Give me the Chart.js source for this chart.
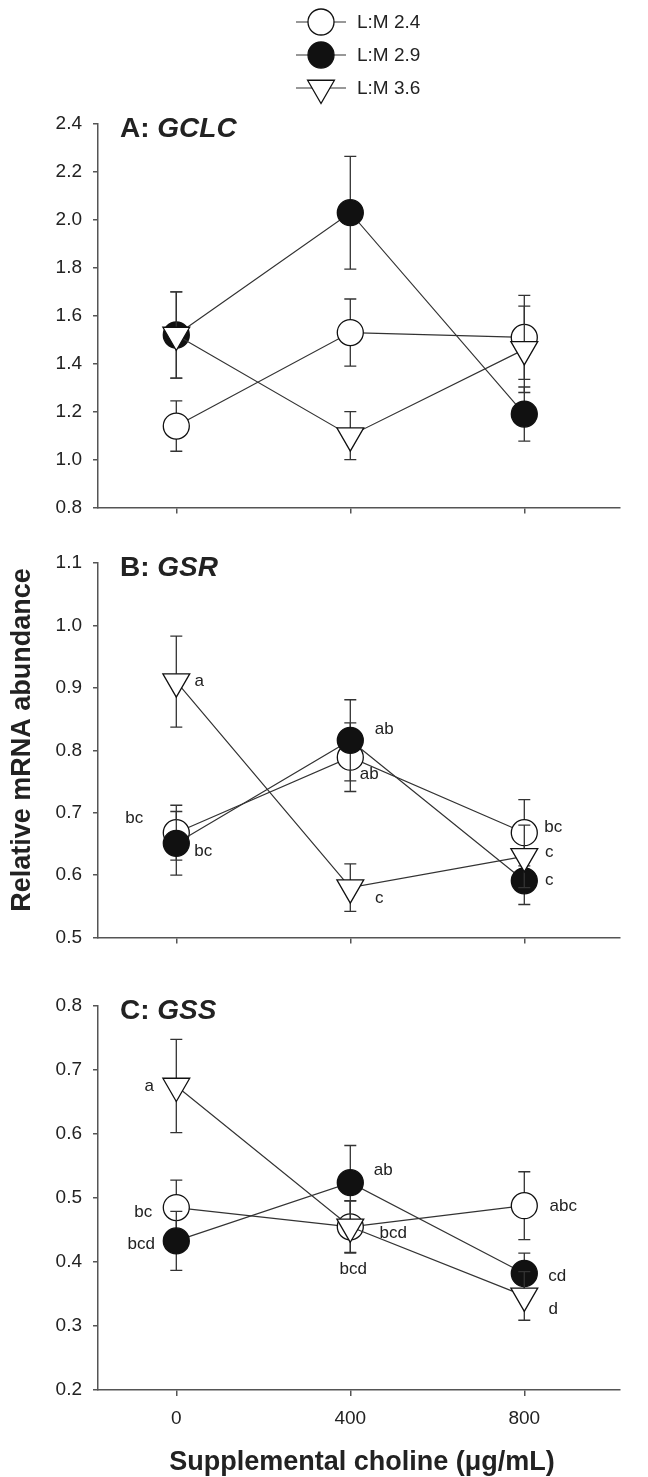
<!DOCTYPE html>
<html lang="en">
<head>
<meta charset="UTF-8">
<title>GCLC / GSR / GSS vs supplemental choline</title>
<script src="https://cdn.jsdelivr.net/npm/chart.js"></script>
<style>
  html, body { margin: 0; padding: 0; background: #fff; }
  .fig { position: relative; width: 648px; height: 1477px; overflow: hidden; }
  .fig canvas { position: absolute; left: 0; }
</style>
</head>
<body>
<div class="fig">
  <canvas id="chartA" width="648" height="530" style="top:0"></canvas>
  <canvas id="chartB" width="648" height="430" style="top:530px"></canvas>
  <canvas id="chartC" width="648" height="517" style="top:960px"></canvas>
</div>

<script>
// ---- data ----
const doses = [0, 400, 800];
const xTickValues = [0, 400, 800];
const seriesLabels = ['L:M 2.4', 'L:M 2.9', 'L:M 3.6'];

// A: GCLC
const gclcTicks = [0.8, 1.0, 1.2, 1.4, 1.6, 1.8, 2.0, 2.2, 2.4];
const gclcLM24 = [1.14, 1.53, 1.51];
const gclcLM24Se = [0.105, 0.14, 0.175];
const gclcLM29 = [1.52, 2.03, 1.19];
const gclcLM29Se = [0.18, 0.235, 0.113];
const gclcLM36 = [1.52, 1.10, 1.46];
const gclcLM36Se = [0.18, 0.10, 0.18];

// B: GSR
const gsrTicks = [0.5, 0.6, 0.7, 0.8, 0.9, 1.0, 1.1];
const gsrLM24 = [0.668, 0.789, 0.668];
const gsrLM24Se = [0.044, 0.055, 0.053];
const gsrLM29 = [0.651, 0.816, 0.591];
const gsrLM29Se = [0.051, 0.065, 0.038];
const gsrLM36 = [0.91, 0.58, 0.63];
const gsrLM36Se = [0.073, 0.038, 0.05];
const gsrLetters24 = ['bc', 'ab', 'bc'];
const gsrLetters29 = ['bc', 'ab', 'c'];
const gsrLetters36 = ['a', 'c', 'c'];

// C: GSS
const gssTicks = [0.2, 0.3, 0.4, 0.5, 0.6, 0.7, 0.8];
const gssLM24 = [0.485, 0.455, 0.488];
const gssLM24Se = [0.043, 0.04, 0.053];
const gssLM29 = [0.433, 0.524, 0.382];
const gssLM29Se = [0.046, 0.058, 0.032];
const gssLM36 = [0.675, 0.455, 0.347];
const gssLM36Se = [0.073, 0.041, 0.038];
const gssLetters24 = ['bc', 'bcd', 'abc'];
const gssLetters29 = ['bcd', 'ab', 'cd'];
const gssLetters36 = ['a', 'bcd', 'd'];

const FONT = "'Liberation Sans', Arial, Helvetica, sans-serif";
const INK = '#222';
const AXIS = '#555';

// marker looks for the three L:M ratios
const styles = [
  { pointStyle: 'circle', pointRadius: 13, pointRotation: 0, pointBackgroundColor: '#fff', order: 2 },
  { pointStyle: 'circle', pointRadius: 13, pointRotation: 0, pointBackgroundColor: '#111', order: 1 },
  { pointStyle: 'triangle', pointRadius: 15.5, pointRotation: 180, pointBackgroundColor: '#fff', order: 0 }
];

function makeSeries(idx, means, ses, letters) {
  return Object.assign({
    label: seriesLabels[idx],
    data: doses.map((d, i) => ({ x: d, y: means[i] })),
    errors: ses,
    letters: letters || [],
    borderColor: '#333',
    borderWidth: 1.2,
    pointBorderColor: '#111',
    pointBorderWidth: 1.3,
    fill: false,
    tension: 0
  }, styles[idx]);
}

// error bars under each series' own markers
const errorBars = {
  id: 'errorBars',
  beforeDatasetDraw(chart, args) {
    const ds = chart.data.datasets[args.index];
    const y = chart.scales.y;
    const ctx = chart.ctx;
    ctx.save();
    ctx.strokeStyle = '#333';
    ctx.lineWidth = 1.3;
    ds.data.forEach((p, i) => {
      const px = args.meta.data[i].x;
      const top = y.getPixelForValue(p.y + ds.errors[i]);
      const bot = y.getPixelForValue(p.y - ds.errors[i]);
      ctx.beginPath();
      ctx.moveTo(px, top); ctx.lineTo(px, bot);
      ctx.moveTo(px - 6, top); ctx.lineTo(px + 6, top);
      ctx.moveTo(px - 6, bot); ctx.lineTo(px + 6, bot);
      ctx.stroke();
    });
    ctx.restore();
  }
};

// significance letters, placed relative to their point
const letterMarks = {
  id: 'letterMarks',
  afterDatasetsDraw(chart, args, opts) {
    if (!opts.offsets) return;
    const ctx = chart.ctx;
    ctx.save();
    ctx.font = '17px ' + FONT;
    ctx.fillStyle = INK;
    ctx.textAlign = 'center';
    ctx.textBaseline = 'middle';
    chart.data.datasets.forEach((ds, di) => {
      const meta = chart.getDatasetMeta(di);
      ds.letters.forEach((txt, i) => {
        const off = opts.offsets[di][i];
        ctx.fillText(txt, meta.data[i].x + off[0], meta.data[i].y + off[1]);
      });
    });
    ctx.restore();
  }
};

const panelTitle = {
  id: 'panelTitle',
  afterDraw(chart, args, opts) {
    const ctx = chart.ctx;
    const base = chart.chartArea.top + 13;
    ctx.save();
    ctx.fillStyle = INK;
    ctx.textBaseline = 'alphabetic';
    ctx.textAlign = 'left';
    ctx.font = 'bold 28px ' + FONT;
    ctx.fillText(opts.prefix, 120, base);
    const w = ctx.measureText(opts.prefix).width;
    ctx.font = 'italic bold 28px ' + FONT;
    ctx.fillText(opts.gene, 120 + w, base);
    ctx.restore();
  }
};

const figLegend = {
  id: 'figLegend',
  afterDraw(chart, args, opts) {
    if (!opts.show) return;
    const ctx = chart.ctx;
    chart.data.datasets.forEach((ds, i) => {
      const cy = opts.top + i * opts.gap;
      ctx.save();
      ctx.strokeStyle = '#333';
      ctx.lineWidth = 1.2;
      ctx.beginPath();
      ctx.moveTo(opts.x - 25, cy); ctx.lineTo(opts.x + 25, cy);
      ctx.stroke();
      ctx.fillStyle = ds.pointBackgroundColor;
      ctx.strokeStyle = ds.pointBorderColor;
      ctx.lineWidth = ds.pointBorderWidth;
      Chart.helpers.drawPoint(ctx, {
        pointStyle: ds.pointStyle, radius: ds.pointRadius,
        rotation: ds.pointRotation, borderWidth: ds.pointBorderWidth
      }, opts.x, cy);
      ctx.fillStyle = INK;
      ctx.font = '19px ' + FONT;
      ctx.textAlign = 'left';
      ctx.textBaseline = 'middle';
      ctx.fillText(ds.label, opts.x + 36, cy + 1);
      ctx.restore();
    });
  }
};

const axisTitles = {
  id: 'axisTitles',
  afterDraw(chart, args, opts) {
    const ctx = chart.ctx;
    ctx.save();
    ctx.fillStyle = INK;
    ctx.font = 'bold 27px ' + FONT;
    ctx.textAlign = 'center';
    ctx.textBaseline = 'middle';
    if (opts.yTitle) {
      ctx.translate(opts.yTitle.x, opts.yTitle.y);
      ctx.rotate(-Math.PI / 2);
      ctx.fillText(opts.yTitle.text, 0, 0);
      ctx.setTransform(1, 0, 0, 1, 0, 0);
    }
    if (opts.xTitle) {
      ctx.fillText(opts.xTitle.text, opts.xTitle.x, opts.xTitle.y);
    }
    ctx.restore();
  }
};

function makePanel(id, p) {
  return new Chart(document.getElementById(id), {
    type: 'line',
    data: { datasets: p.datasets },
    plugins: [errorBars, letterMarks, panelTitle, figLegend, axisTitles],
    options: {
      responsive: false,
      animation: false,
      events: [],
      layout: { padding: { top: p.padTop, right: 28, left: 0, bottom: 0 } },
      plugins: {
        legend: { display: false },
        tooltip: { enabled: false },
        letterMarks: { offsets: p.offsets },
        panelTitle: { prefix: p.prefix, gene: p.gene },
        figLegend: p.legend || { show: false },
        axisTitles: p.titles || {}
      },
      scales: {
        x: {
          type: 'linear',
          min: -180,
          max: 1020,
          afterBuildTicks: s => { s.ticks = xTickValues.map(v => ({ value: v })); },
          afterFit: s => { s.height = p.xHeight; },
          ticks: { display: p.xLabels, color: INK, font: { family: FONT, size: 19 }, padding: 11, callback: v => String(v) },
          grid: { drawOnChartArea: false, tickLength: 6, color: AXIS, lineWidth: 1.5 },
          border: { display: true, color: AXIS, width: 1.5 }
        },
        y: {
          min: p.ticks[0],
          max: p.ticks[p.ticks.length - 1],
          afterBuildTicks: s => { s.ticks = p.ticks.map(v => ({ value: v })); },
          afterFit: s => { s.width = 98; },
          ticks: { color: INK, font: { family: FONT, size: 19 }, padding: 11, callback: v => v.toFixed(1) },
          grid: { drawOnChartArea: false, tickLength: 5, color: AXIS, lineWidth: 1.5 },
          border: { display: true, color: AXIS, width: 1.5 }
        }
      }
    }
  });
}

makePanel('chartA', {
  prefix: 'A: ', gene: 'GCLC',
  ticks: gclcTicks, padTop: 124, xHeight: 21, xLabels: false,
  legend: { show: true, x: 321, top: 22, gap: 33 },
  datasets: [
    makeSeries(0, gclcLM24, gclcLM24Se),
    makeSeries(1, gclcLM29, gclcLM29Se),
    makeSeries(2, gclcLM36, gclcLM36Se)
  ]
});

makePanel('chartB', {
  prefix: 'B: ', gene: 'GSR',
  ticks: gsrTicks, padTop: 33, xHeight: 13, xLabels: false,
  titles: { yTitle: { text: 'Relative mRNA abundance', x: 23, y: 210 } },
  offsets: [
    [[-42, -14], [19, 17], [29, -5]],
    [[27, 8], [34, -11], [25, 0]],
    [[23, 0], [29, 11], [25, -4]]
  ],
  datasets: [
    makeSeries(0, gsrLM24, gsrLM24Se, gsrLetters24),
    makeSeries(1, gsrLM29, gsrLM29Se, gsrLetters29),
    makeSeries(2, gsrLM36, gsrLM36Se, gsrLetters36)
  ]
});

makePanel('chartC', {
  prefix: 'C: ', gene: 'GSS',
  ticks: gssTicks, padTop: 46, xHeight: 87, xLabels: true,
  titles: { xTitle: { text: 'Supplemental choline (\u03bcg/mL)', x: 362, y: 503 } },
  offsets: [
    [[-33, 5], [43, 7], [39, 1]],
    [[-35, 3], [33, -12], [33, 3]],
    [[-27, 0], [3, 43], [29, 13]]
  ],
  datasets: [
    makeSeries(0, gssLM24, gssLM24Se, gssLetters24),
    makeSeries(1, gssLM29, gssLM29Se, gssLetters29),
    makeSeries(2, gssLM36, gssLM36Se, gssLetters36)
  ]
});
</script>
</body>
</html>
